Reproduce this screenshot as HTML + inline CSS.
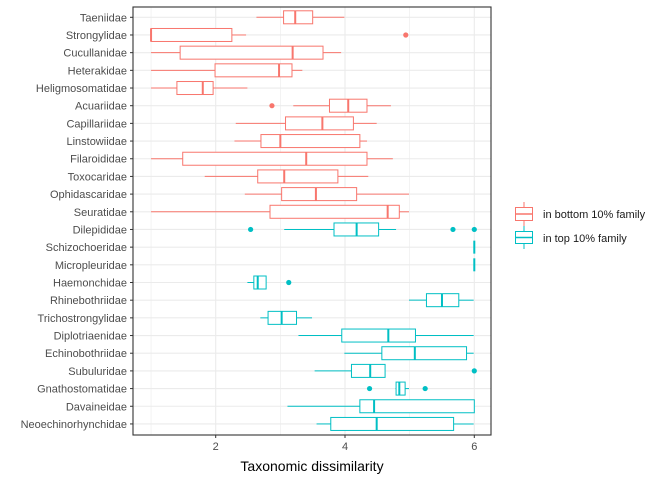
<!DOCTYPE html>
<html><head><meta charset="utf-8"><style>
body{margin:0;background:#fff;font-family:"Liberation Sans",sans-serif}
svg text{font-family:"Liberation Sans",sans-serif}
</style></head><body>
<svg id="chart" width="672" height="480" xmlns="http://www.w3.org/2000/svg">
<rect x="133" y="7" width="358" height="428" fill="#fff" stroke="none"/>
<g id="grid"></g><g id="marks"></g>
<rect x="133" y="7" width="358" height="428" fill="none" stroke="#333" stroke-width="1.1"/>
<g id="yaxis"></g><g id="xaxis"></g>
<text x="312" y="471" font-size="14" text-anchor="middle" fill="#000">Taxonomic dissimilarity</text>
<g>
 <g>
  <line x1="524" y1="202" x2="524" y2="226" stroke="#F8766D"/>
  <rect x="515.5" y="207.5" width="17" height="13" fill="#fff" stroke="#F8766D"/>
  <line x1="515.5" y1="214" x2="532.5" y2="214" stroke="#F8766D" stroke-width="1.5"/>
  <text x="543" y="218" font-size="11" fill="#1a1a1a">in bottom 10% family</text>
 </g>
 <g>
  <line x1="524" y1="226" x2="524" y2="249" stroke="#00BFC4"/>
  <rect x="515.5" y="231.5" width="17" height="12" fill="#fff" stroke="#00BFC4"/>
  <line x1="515.5" y1="237.5" x2="532.5" y2="237.5" stroke="#00BFC4" stroke-width="1.5"/>
  <text x="543" y="242" font-size="11" fill="#1a1a1a">in top 10% family</text>
 </g>
</g>
</svg>
<script>
const categories=["Taeniidae","Strongylidae","Cucullanidae","Heterakidae","Heligmosomatidae","Acuariidae","Capillariidae","Linstowiidae","Filaroididae","Toxocaridae","Ophidascaridae","Seuratidae","Dilepididae","Schizochoeridae","Micropleuridae","Haemonchidae","Rhinebothriidae","Trichostrongylidae","Diplotriaenidae","Echinobothriidae","Subuluridae","Gnathostomatidae","Davaineidae","Neoechinorhynchidae"];
const groups=["bottom","bottom","bottom","bottom","bottom","bottom","bottom","bottom","bottom","bottom","bottom","bottom","top","top","top","top","top","top","top","top","top","top","top","top"];
const lows=[2.63,1,1,1,1,3.20,2.31,2.29,1,1.83,2.45,1,3.06,6,6,2.49,4.99,2.69,3.28,3.99,3.53,4.78,3.11,3.56];
const q1s=[3.05,1,1.45,1.99,1.40,3.76,3.08,2.70,1.49,2.65,3.02,2.84,3.83,6,6,2.59,5.26,2.81,3.95,4.57,4.10,4.79,4.23,3.78];
const medians=[3.23,1,3.19,2.98,1.80,4.05,3.65,3.00,3.40,3.06,3.55,4.66,4.18,6,6,2.65,5.50,3.02,4.67,5.08,4.39,4.84,4.45,4.49];
const q3s=[3.50,2.25,3.66,3.18,1.96,4.34,4.13,4.23,4.34,3.89,4.18,4.84,4.52,6,6,2.78,5.76,3.25,5.09,5.88,4.62,4.93,6,5.68];
const highs=[3.99,2.47,3.94,3.34,2.49,4.71,4.49,4.34,4.74,4.36,4.99,4.99,4.79,6,6,2.78,5.99,3.49,5.99,5.99,4.62,4.99,6,5.99];
const outliers=[[],[4.94],[],[],[],[2.87],[],[],[],[],[],[],[2.54,5.67,6],[],[],[3.13],[],[],[],[],[6],[4.38,5.24],[],[]];
const xTicks=[2,4,6];
const NS="http://www.w3.org/2000/svg";
const X=v=>215.7+(v-2)*64.65;
const Y=i=>17.3+i*17.68;
const col=g=>g==="bottom"?"#F8766D":"#00BFC4";
function mk(tag,attrs,parent){const e=document.createElementNS(NS,tag);for(const k in attrs)e.setAttribute(k,attrs[k]);parent.appendChild(e);return e;}
const grid=document.getElementById("grid"),marks=document.getElementById("marks"),ya=document.getElementById("yaxis"),xa=document.getElementById("xaxis");
for(let v=1;v<=6;v++){const l=mk("line",{x1:X(v),x2:X(v),y1:7,y2:435,stroke:"#ebebeb","stroke-width":v%2===0?1.1:0.6},grid);

}
categories.forEach((c,i)=>{
 const g=mk("line",{x1:133,x2:491,y1:Y(i),y2:Y(i),stroke:"#ebebeb","stroke-width":1.1},grid);
 
 
 const y=Y(i),cl=col(groups[i]);
 const bx=mk("g",{},marks);
 
 
 mk("line",{x1:X(lows[i]),x2:X(q1s[i]),y1:y,y2:y,stroke:cl},bx);
 mk("line",{x1:X(q3s[i]),x2:X(highs[i]),y1:y,y2:y,stroke:cl},bx);
 mk("rect",{x:X(q1s[i]),y:y-6.5,width:Math.max(0,X(q3s[i])-X(q1s[i])),height:13,fill:"#fff",stroke:cl,"stroke-width":1},bx);
 mk("line",{x1:X(medians[i]),x2:X(medians[i]),y1:y-6.5,y2:y+6.5,stroke:cl,"stroke-width":2},bx);
 outliers[i].forEach(o=>{const p=mk("circle",{cx:X(o),cy:y,r:2.6,fill:cl},marks);
  
  });
 const t=mk("text",{x:127,y:y+4,"font-size":11,"text-anchor":"end",fill:"#4d4d4d"},ya);
 t.textContent=c;
 
 
 mk("line",{x1:130,x2:133,y1:y,y2:y,stroke:"#333"},ya);
});
xTicks.forEach(v=>{
 mk("line",{x1:X(v),x2:X(v),y1:435,y2:438,stroke:"#333"},xa);
 const t=mk("text",{x:X(v),y:450,"font-size":11,"text-anchor":"middle",fill:"#4d4d4d"},xa);
 t.textContent=v;
 
 
});
</script>
</body></html>
